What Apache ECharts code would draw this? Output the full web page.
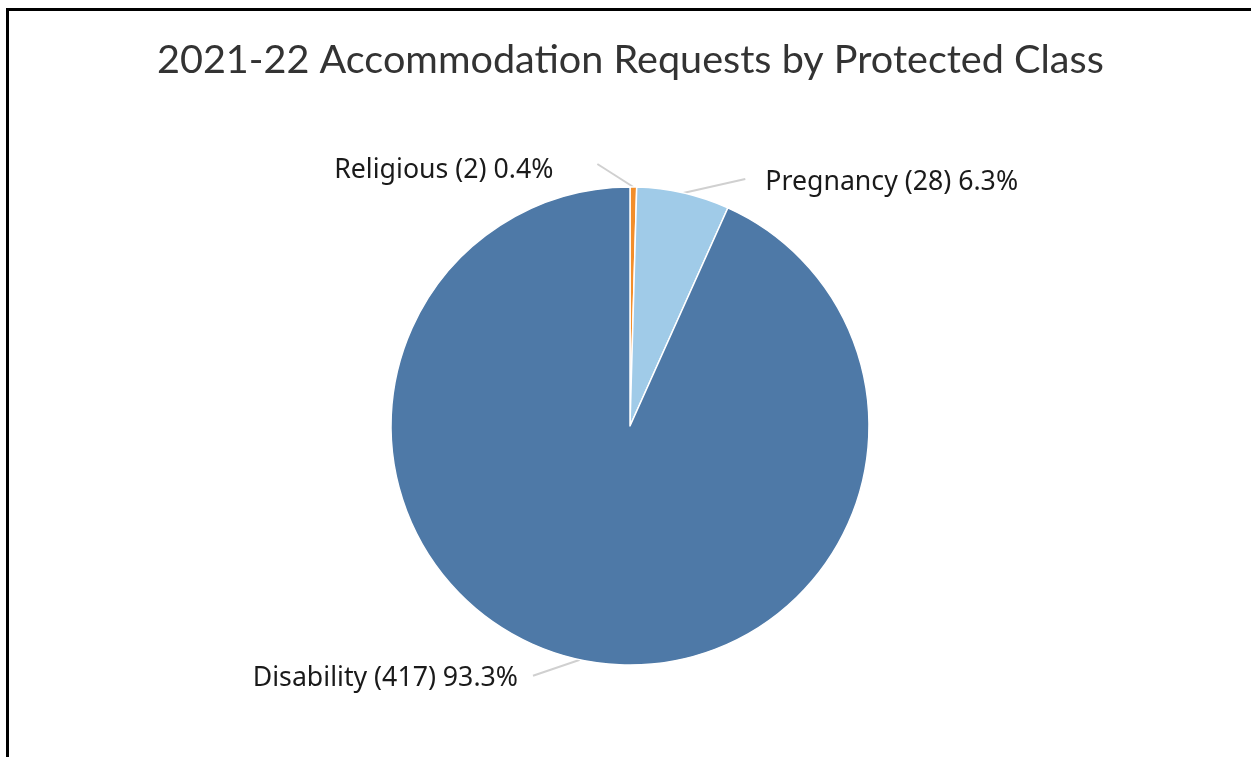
<!DOCTYPE html>
<html>
<head>
<meta charset="utf-8">
<script src="https://cdn.jsdelivr.net/npm/echarts@6/dist/echarts.min.js"></script>
<style>
html,body{margin:0;padding:0;background:#fff;}
#chart{width:1251px;height:757px;}
</style>
</head>
<body>
<div id="chart"></div>
<script>
// Data
const categories = ['Religious', 'Pregnancy', 'Disability'];
const counts = [2, 28, 417];
const percentLabels = ['0.4%', '6.3%', '93.3%'];
const titleText = '2021-22 Accommodation Requests by Protected Class';

// Styles (not data)
const colors = ['#f28e2b', '#a0cbe8', '#4e79a7'];
// label line end and text anchor offsets relative to the slice's arc point
const lineEndOffsets = [[-36, -23], [62, -14], [-47, 16]];
const textOffsets = [[-80, -17], [82, -11], [-62, 19]];
const textAligns = ['right', 'left', 'right'];

const chart = echarts.init(document.getElementById('chart'), null, {renderer: 'canvas'});

const seriesData = categories.map((c, i) => ({
  name: c,
  value: counts[i],
  itemStyle: {color: colors[i]}
}));

chart.setOption({
  animation: false,
  backgroundColor: '#ffffff',
  title: {
    text: titleText,
    left: 157,
    top: 40,
    padding: 0,
    textStyle: {
      fontFamily: 'Lato',
      fontSize: 39.6,
      fontWeight: 'normal',
      color: '#333333'
    }
  },
  graphic: [
    {type: 'rect', shape: {x: 6, y: 8, width: 1251, height: 3}, style: {fill: '#000'}},
    {type: 'rect', shape: {x: 6, y: 8, width: 3, height: 760}, style: {fill: '#000'}}
  ],
  series: [{
    type: 'pie',
    center: [630, 426],
    radius: [0, 239],
    startAngle: 90,
    clockwise: true,
    itemStyle: {borderColor: '#ffffff', borderWidth: 1.5},
    label: {
      show: true,
      formatter: p => p.name + ' (' + counts[p.dataIndex] + ') ' + percentLabels[p.dataIndex],
      fontFamily: 'Noto Sans',
      fontSize: 26.7,
      color: '#1a1a1a'
    },
    labelLine: {
      show: true,
      length: 20,
      length2: 20,
      lineStyle: {color: '#d0d0d0', width: 2}
    },
    labelLayout: function (p) {
      const i = p.dataIndex;
      const a = p.labelLinePoints[0];
      const e = [a[0] + lineEndOffsets[i][0], a[1] + lineEndOffsets[i][1]];
      return {
        x: a[0] + textOffsets[i][0],
        y: a[1] + textOffsets[i][1],
        align: textAligns[i],
        verticalAlign: 'middle',
        labelLinePoints: [[a[0], a[1]], e, e]
      };
    },
    emphasis: {disabled: true},
    data: seriesData
  }]
});
</script>
</body>
</html>
